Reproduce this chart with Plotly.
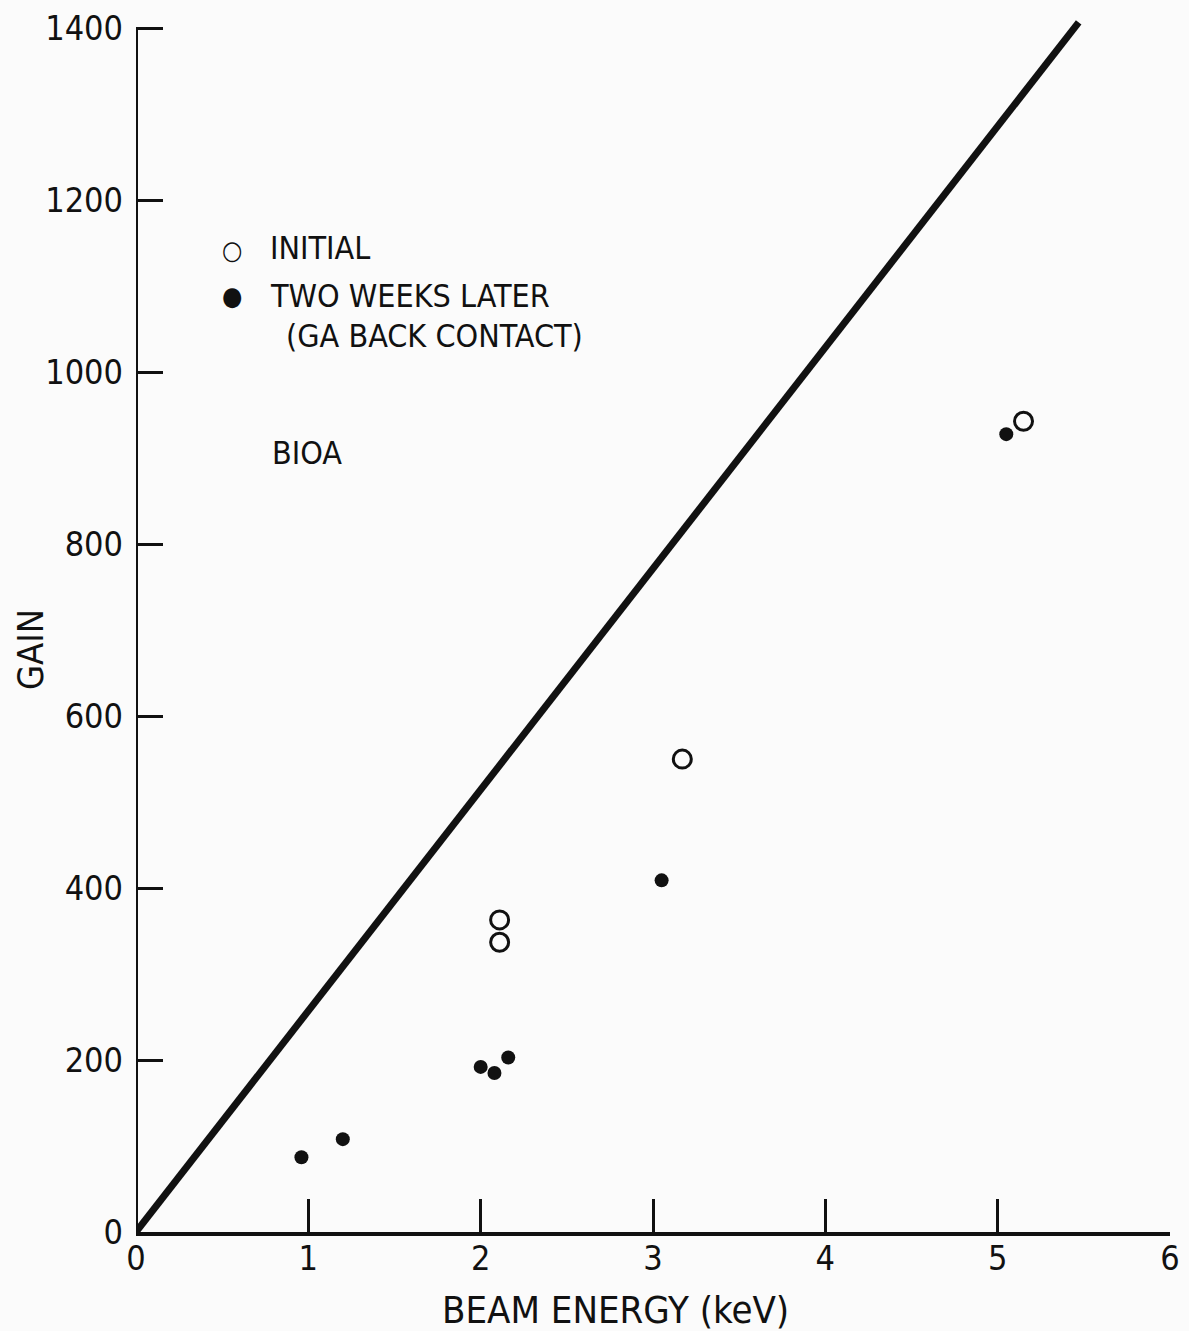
import plotly.graph_objects as go

# Gain versus beam energy, device B10A
initial_energy = [5.15, 3.17, 2.11, 2.11]
initial_gain = [943, 550, 363, 337]

later_energy = [5.05, 3.05, 2.00, 2.08, 2.16, 1.20, 0.96]
later_gain = [928, 409, 192, 185, 203, 108, 87]

fit_energy = [0.0, 5.47]
fit_gain = [0.0, 1407]

x_ticks = [0, 1, 2, 3, 4, 5, 6]
y_ticks = [0, 200, 400, 600, 800, 1000, 1200, 1400]

INK = "#111111"
FONT = "DejaVu Sans Condensed, Liberation Sans Narrow, sans-serif"

# plot area in pixels
L, R, T, B = 136, 19, 18, 99
W, H = 1189, 1331
PW, PH = W - L - R, H - T - B

fig = go.Figure()

fig.add_trace(go.Scatter(
    x=fit_energy, y=fit_gain, mode="lines",
    line=dict(color=INK, width=7), showlegend=False, hoverinfo="skip",
))
fig.add_trace(go.Scatter(
    x=initial_energy, y=initial_gain, mode="markers",
    marker=dict(symbol="circle-open", size=18, color=INK, line=dict(width=3, color=INK)),
    name="INITIAL", showlegend=False, cliponaxis=False,
))
fig.add_trace(go.Scatter(
    x=later_energy, y=later_gain, mode="markers",
    marker=dict(symbol="circle", size=14, color=INK),
    name="TWO WEEKS LATER", showlegend=False, cliponaxis=False,
))

# vertical axis line drawn only up to the top tick
fig.add_shape(type="line", xref="x", yref="y", x0=0, x1=0, y0=0, y1=y_ticks[-1],
              line=dict(color=INK, width=4))


def note(px, py, text, size=32, anchor="left", angle=0):
    fig.add_annotation(
        xref="paper", yref="paper",
        x=(px - L) / PW, y=(H - B - py) / PH,
        text=text, showarrow=False, xanchor=anchor, yanchor="middle",
        textangle=angle, borderpad=0,
        font=dict(family=FONT, size=size, color=INK),
    )


note(221, 250, "○", size=26)
note(269, 248, "INITIAL")
note(221, 296, "●", size=26)
note(269, 296, "TWO WEEKS LATER")
note(285, 336, "(GA BACK CONTACT)")
note(271, 453, "BIOA")

# axis titles
note(615, 1310, "BEAM ENERGY (keV)", size=38, anchor="center")
note(30, 650, "GAIN", size=36, anchor="center", angle=-90)

fig.update_layout(
    width=W, height=H,
    margin=dict(l=L, r=R, t=T, b=B, autoexpand=False),
    paper_bgcolor="#fbfbfb", plot_bgcolor="#fbfbfb",
    font=dict(family=FONT, size=34, color=INK),
    xaxis=dict(
        range=[0, 6], tickvals=x_ticks, ticktext=[str(v) for v in x_ticks],
        showgrid=False, zeroline=False, showline=True, linecolor=INK, linewidth=4,
        ticks="inside", ticklen=33, tickwidth=3, tickcolor=INK,
        tickfont=dict(family=FONT, size=34, color=INK),
        ticklabelstandoff=-7, automargin=False,
    ),
    yaxis=dict(
        range=[0, 1412], tickvals=y_ticks, ticktext=[str(v) for v in y_ticks],
        showgrid=False, zeroline=False, showline=False,
        ticks="inside", ticklen=27, tickwidth=3, tickcolor=INK,
        tickfont=dict(family=FONT, size=34, color=INK),
        ticklabelstandoff=12, automargin=False,
    ),
)

fig.write_html("out.html")
